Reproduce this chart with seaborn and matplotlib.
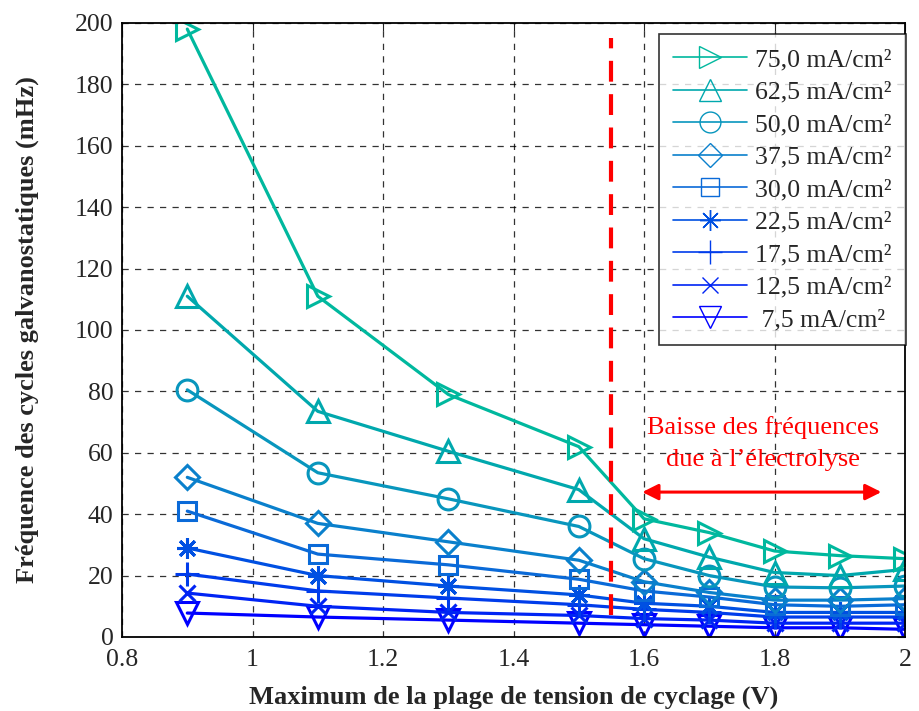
import numpy as np
import pandas as pd
import matplotlib
matplotlib.use("Agg")
import matplotlib.pyplot as plt
import seaborn as sns
from matplotlib.lines import Line2D


# data
tension = [0.9, 1.1, 1.3, 1.5, 1.6, 1.7, 1.8, 1.9, 2.0]
courants = ["75,0 mA/cm²", "62,5 mA/cm²", "50,0 mA/cm²", "37,5 mA/cm²", "30,0 mA/cm²",
            "22,5 mA/cm²", "17,5 mA/cm²", "12,5 mA/cm²", " 7,5 mA/cm²"]
f_75_0 = [198, 111, 79, 62, 38.5, 34, 28, 26.5, 25.5]
f_62_5 = [111, 73.5, 60.5, 48, 32, 26, 21, 20, 22]
f_50_0 = [80.5, 53.5, 45, 36, 25.5, 20, 16.3, 16, 16.6]
f_37_5 = [52, 37, 31, 25, 18, 14.5, 12, 12, 12.5]
f_30_0 = [41, 27, 23.5, 18.8, 15, 13, 10.5, 10, 10.5]
f_22_5 = [29, 20, 16.6, 13.7, 11, 10, 8, 8, 8]
f_17_5 = [20.5, 15, 12.7, 10.5, 9, 8, 6.5, 6.5, 6.5]
f_12_5 = [14.3, 10, 8, 7, 6, 5.5, 4.5, 4.5, 4.5]
f_7_5 = [7.8, 6.5, 5.5, 4.5, 4, 3.5, 3, 3, 2.5]
series = [f_75_0, f_62_5, f_50_0, f_37_5, f_30_0, f_22_5, f_17_5, f_12_5, f_7_5]

colors = ["#00b89e", "#00a8ad", "#0896bd", "#0a80cc", "#0a6ad8",
          "#0050e2", "#003ceb", "#0024f4", "#0000ff"]
# matlab style markers ('*' is an 8 spoke asterisk)
markers = [">", "^", "o", "D", "s", (8, 2, 0), "+", "x", "v"]
msizes = [16, 16, 15, 12, 13, 15, 17, 12, 16]

rows = []
for name, vals in zip(courants, series):
    for x, y in zip(tension, vals):
        rows.append([name, x, y])
df = pd.DataFrame(rows, columns=["courant", "tension", "freq"])

sns.set_style("white")
plt.rcParams["font.family"] = ["Liberation Serif", "DejaVu Serif"]

fig = plt.figure(figsize=(9.19, 7.11), dpi=100)
ax = fig.add_axes([0.1328, 0.1041, 0.852, 0.8636])

# draw smallest first so the upper curves sit on top like the reference
for i in reversed(range(len(courants))):
    sub = df[df["courant"] == courants[i]]
    sns.lineplot(data=sub, x="tension", y="freq", color=colors[i], linewidth=2.3,
                 marker=markers[i], markersize=msizes[i], markerfacecolor="none",
                 markeredgecolor=colors[i], markeredgewidth=2.2, ax=ax, legend=False)

handles = []
for i in range(len(courants)):
    handles.append(Line2D([], [], color=colors[i], linewidth=1.2, marker=markers[i],
                          markersize=msizes[i], markerfacecolor="none",
                          markeredgecolor=colors[i], markeredgewidth=1.0))

# electrolysis limit
ax.plot([1.55, 1.55], [7, 195], color="red", linestyle=(0, (5, 3)), linewidth=3)
ax.annotate("", xy=(1.593, 47.2), xytext=(1.968, 47.2),
            arrowprops=dict(arrowstyle="<|-|>", color="red", lw=2.2, mutation_scale=24))
ax.text(1.783, 63, "Baisse des fréquences\ndue à l’électrolyse", color="red",
        ha="center", va="center", fontsize=19, linespacing=1.55)

ax.set_xlim(0.8, 2.0)
ax.set_ylim(0, 200)
ax.set_xticks([0.8, 1, 1.2, 1.4, 1.6, 1.8, 2])
ax.set_xticklabels(["0.8", "1", "1.2", "1.4", "1.6", "1.8", "2"])
ax.set_yticks(np.arange(0, 201, 20))
ax.grid(True, color="black", linestyle=(0, (5, 5)), linewidth=0.9, alpha=0.8)
ax.tick_params(direction="in", length=6, labelsize=18.5, top=True, right=True)
ax.tick_params(axis="x", pad=9)
ax.tick_params(axis="y", pad=6)
for s in ax.spines.values():
    s.set_color("black")
    s.set_linewidth(1.3)

ax.set_xlabel("Maximum de la plage de tension de cyclage (V)", fontsize=19,
              fontweight="bold", labelpad=10)
ax.set_ylabel("Fréquence des cycles galvanostatiques (mHz)", fontsize=19,
              fontweight="bold", labelpad=26)

leg = ax.legend(handles=handles, labels=courants, loc="upper right",
                bbox_to_anchor=(1.001, 0.982), fontsize=18.5, frameon=True,
                fancybox=False, edgecolor="black", handlelength=2.9,
                labelspacing=0.37, borderpad=0.55, handletextpad=0.3,
                borderaxespad=0)
leg.get_frame().set_linewidth(1.2)

fig.savefig("out.png", dpi=100)
